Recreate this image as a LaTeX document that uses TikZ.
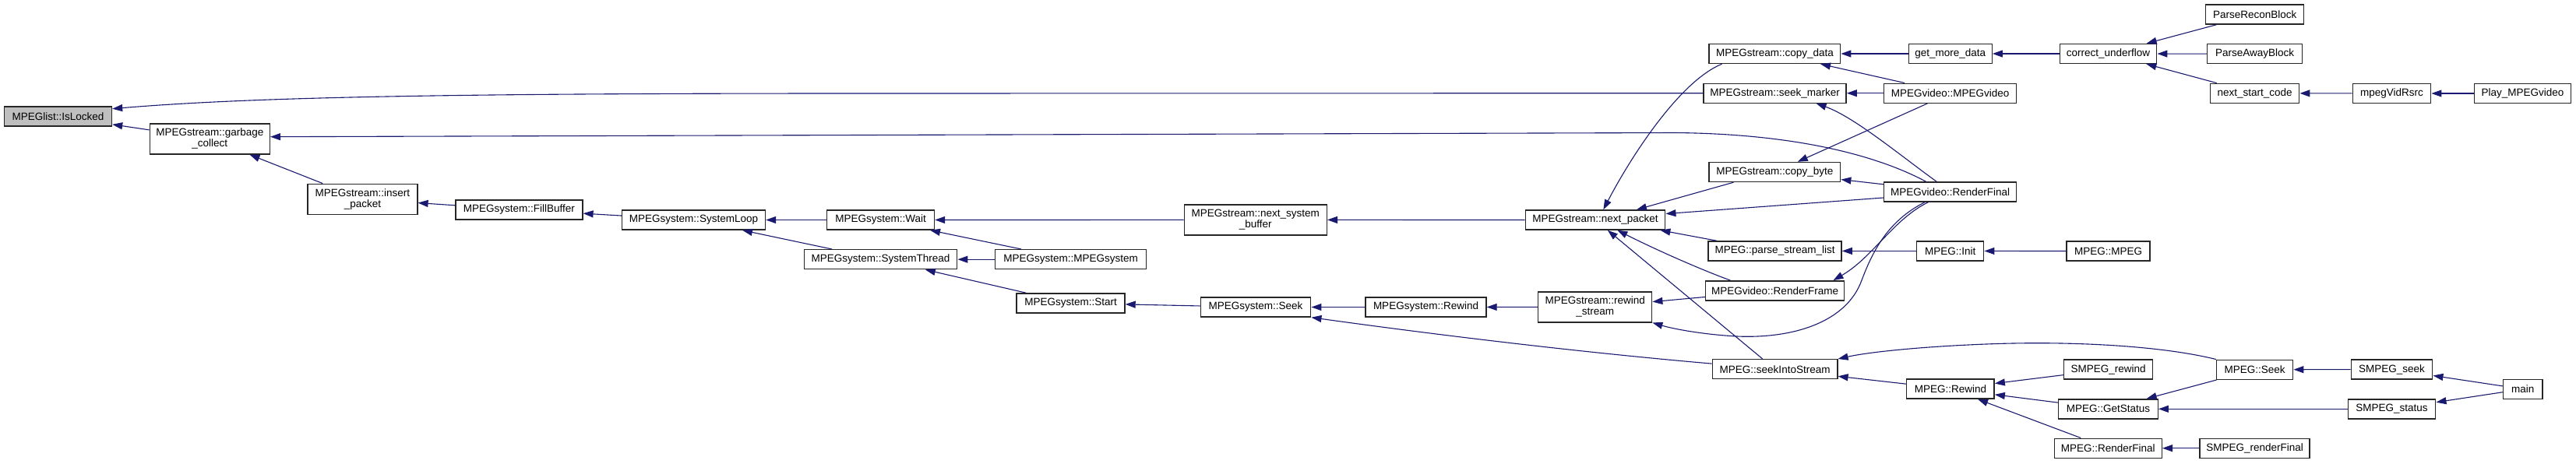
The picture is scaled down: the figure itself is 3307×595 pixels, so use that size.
\documentclass[tikz,border=0pt]{standalone}
\usepackage{fontspec}
\setmainfont{Liberation Sans}
\usetikzlibrary{arrows.meta}
\definecolor{edgeblue}{HTML}{191970}
\definecolor{nodegray}{HTML}{BFBFBF}
\tikzset{
  fn/.style={draw=black!85,line width=1.4pt,fill=white,inner sep=3pt,minimum height=25pt,font=\fontsize{13.5}{14}\selectfont},
  fntwo/.style={fn,align=center,minimum height=39pt},
  cur/.style={fn,fill=nodegray},
  call/.style={-{Triangle[length=13pt,width=9pt]},edgeblue,line width=1.1pt}
}
\begin{document}
\begin{tikzpicture}[x=1pt,y=-1pt]
  \useasboundingbox (0,0) rectangle (3307,595);
  \node[cur,minimum width=138pt] (islocked) at (74.5,149.5) {MPEGlist::IsLocked};
  \node[fntwo,minimum width=154pt] (gcollect) at (269.3,178.4) {MPEGstream::garbage\\\_collect};
  \node[fntwo,minimum width=141pt] (ipacket) at (465.4,255.8) {MPEGstream::insert\\\_packet};
  \node[fn,minimum width=163pt] (fillbuf) at (666.4,269.3) {MPEGsystem::FillBuffer};
  \node[fn,minimum width=184pt] (sysloop) at (890.5,282.5) {MPEGsystem::SystemLoop};
  \node[fn,minimum width=138pt] (wait) at (1130.5,282.5) {MPEGsystem::Wait};
  \node[fn,minimum width=196.5pt] (systhread) at (1130.5,333.2) {MPEGsystem::SystemThread};
  \node[fn,minimum width=194pt] (mpegsys) at (1374.6,333.2) {MPEGsystem::MPEGsystem};
  \node[fn,minimum width=139pt] (start) at (1374.5,389.4) {MPEGsystem::Start};
  \node[fntwo,minimum width=183pt] (nsbuf) at (1611.8,282.4) {MPEGstream::next\_system\\\_buffer};
  \node[fn,minimum width=141.5pt] (sysseek) at (1612,394.5) {MPEGsystem::Seek};
  \node[fn,minimum width=155pt] (sysrewind) at (1830.5,394.5) {MPEGsystem::Rewind};
  \node[fntwo,minimum width=146pt] (rwstream) at (2047.7,394.3) {MPEGstream::rewind\\\_stream};
  \node[fn,minimum width=179.5pt] (npacket) at (2048,282.5) {MPEGstream::next\_packet};
  \node[fn,minimum width=168.5pt] (cdata) at (2278.4,69) {MPEGstream::copy\_data};
  \node[fn,minimum width=183pt] (seekmarker) at (2278.6,119.7) {MPEGstream::seek\_marker};
  \node[fn,minimum width=168.5pt] (cbyte) at (2278.4,221) {MPEGstream::copy\_byte};
  \node[fn,minimum width=171pt] (pslist) at (2278.6,322.4) {MPEG::parse\_stream\_list};
  \node[fn,minimum width=178pt] (rframe) at (2278.6,373.3) {MPEGvideo::RenderFrame};
  \node[fn,minimum width=160.5pt] (sis) at (2278.6,474.2) {MPEG::seekIntoStream};
  \node[fn,minimum width=107pt] (gmdata) at (2503.7,69) {get\_more\_data};
  \node[fn,minimum width=170pt] (mvideo) at (2503.7,119.7) {MPEGvideo::MPEGvideo};
  \node[fn,minimum width=170pt] (rfv) at (2503.7,246.5) {MPEGvideo::RenderFinal};
  \node[fn,minimum width=86pt] (init) at (2503.7,322.4) {MPEG::Init};
  \node[fn,minimum width=112.5pt] (mrewind) at (2503.9,499.6) {MPEG::Rewind};
  \node[fn,minimum width=124.5pt] (cunder) at (2706.5,69) {correct\_underflow};
  \node[fn,minimum width=107pt] (mpeg) at (2706.5,322.5) {MPEG::MPEG};
  \node[fn,minimum width=114pt] (srewind) at (2706.5,474.5) {SMPEG\_rewind};
  \node[fn,minimum width=127.5pt] (getstatus) at (2706.5,525.3) {MPEG::GetStatus};
  \node[fn,minimum width=138pt] (mrfinal) at (2706.3,575.7) {MPEG::RenderFinal};
  \node[fn,minimum width=126pt] (precon) at (2894.7,18.5) {ParseReconBlock};
  \node[fn,minimum width=122pt] (paway) at (2894.5,69.2) {ParseAwayBlock};
  \node[fn,minimum width=114.5pt] (nscode) at (2894.5,119.8) {next\_start\_code};
  \node[fn,minimum width=98pt] (mseek) at (2894.7,474.8) {MPEG::Seek};
  \node[fn,minimum width=141pt] (srfinal) at (2894.5,575.7) {SMPEG\_renderFinal};
  \node[fn,minimum width=100.5pt] (vidrsrc) at (3070.5,120) {mpegVidRsrc};
  \node[fn,minimum width=104.5pt] (sseek) at (3070.5,474.5) {SMPEG\_seek};
  \node[fn,minimum width=112.5pt] (sstatus) at (3070.5,525.3) {SMPEG\_status};
  \node[fn,minimum width=124.5pt] (playvid) at (3238.5,120) {Play\_MPEGvideo};
  \node[fn,minimum width=50.5pt] (main) at (3238.7,499.8) {main};

  \draw[call] (gcollect) -- (islocked);
  \draw[call] (seekmarker.west) -- (1100,120) .. controls (600,120) and (330,124) .. (islocked.8);
  \draw[call] (rfv.157) .. controls (2420,205) and (2320,172) .. (2150,170.5) -- (gcollect.2);
  \draw[call] (ipacket) -- (gcollect);
  \draw[call] (fillbuf) -- (ipacket);
  \draw[call] (sysloop) -- (fillbuf);
  \draw[call] (wait) -- (sysloop);
  \draw[call] (systhread) -- (sysloop);
  \draw[call] (nsbuf) -- (wait);
  \draw[call] (mpegsys) -- (wait);
  \draw[call] (mpegsys) -- (systhread);
  \draw[call] (start) -- (systhread);
  \draw[call] (sysseek) -- (start);
  \draw[call] (sysrewind) -- (sysseek);
  \draw[call] (rwstream) -- (sysrewind);
  \draw[call] (npacket) -- (nsbuf);
  \draw[call] (sis.175) .. controls (2000,450) and (1800,424) .. (sysseek.south east);
  \draw[call] (cdata.191) .. controls (2157,104) and (2095,199) .. (npacket.52);
  \draw[call] (cbyte.194) -- (npacket.14);
  \draw[call] (rfv.185) -- (npacket.5);
  \draw[call] (pslist.170) -- (npacket.351);
  \draw[call] (rframe.167) .. controls (2180,345) and (2120,318) .. (npacket.335);
  \draw[call] (sis) -- (npacket);
  \draw[call] (rframe) -- (rwstream);
  \draw[call] (rfv.202) .. controls (2425,283) and (2405,320) .. (2390,360) .. controls (2370,415) and (2300,435) .. (2230,432) .. controls (2190,430) and (2150,423) .. (rwstream.south east);
  \draw[call] (rfv.205) .. controls (2430,282) and (2405,330) .. (rframe.10);
  \draw[call] (mvideo) -- (cdata);
  \draw[call] (mvideo) -- (seekmarker);
  \draw[call] (mvideo) -- (cbyte);
  \draw[call] (rfv.143) .. controls (2440,200) and (2380,150) .. (seekmarker.346);
  \draw[call] (rfv) -- (cbyte);
  \draw[call] (gmdata) -- (cdata);
  \draw[call] (cunder) -- (gmdata);
  \draw[call] (precon) -- (cunder);
  \draw[call] (paway) -- (cunder);
  \draw[call] (nscode) -- (cunder);
  \draw[call] (vidrsrc) -- (nscode);
  \draw[call] (playvid) -- (vidrsrc);
  \draw[call] (init) -- (pslist);
  \draw[call] (mpeg) -- (init);
  \draw[call] (mseek.north west) .. controls (2770,443) and (2650,438) .. (2550,442) .. controls (2470,445) and (2400,452) .. (sis.north east);
  \draw[call] (mrewind) -- (sis);
  \draw[call] (srewind) -- (mrewind);
  \draw[call] (getstatus) -- (mrewind);
  \draw[call] (mrfinal) -- (mrewind);
  \draw[call] (mseek) -- (getstatus);
  \draw[call] (sstatus) -- (getstatus);
  \draw[call] (srfinal) -- (mrfinal);
  \draw[call] (sseek) -- (mseek);
  \draw[call] (main) -- (sseek);
  \draw[call] (main) -- (sstatus);
\end{tikzpicture}
\end{document}
